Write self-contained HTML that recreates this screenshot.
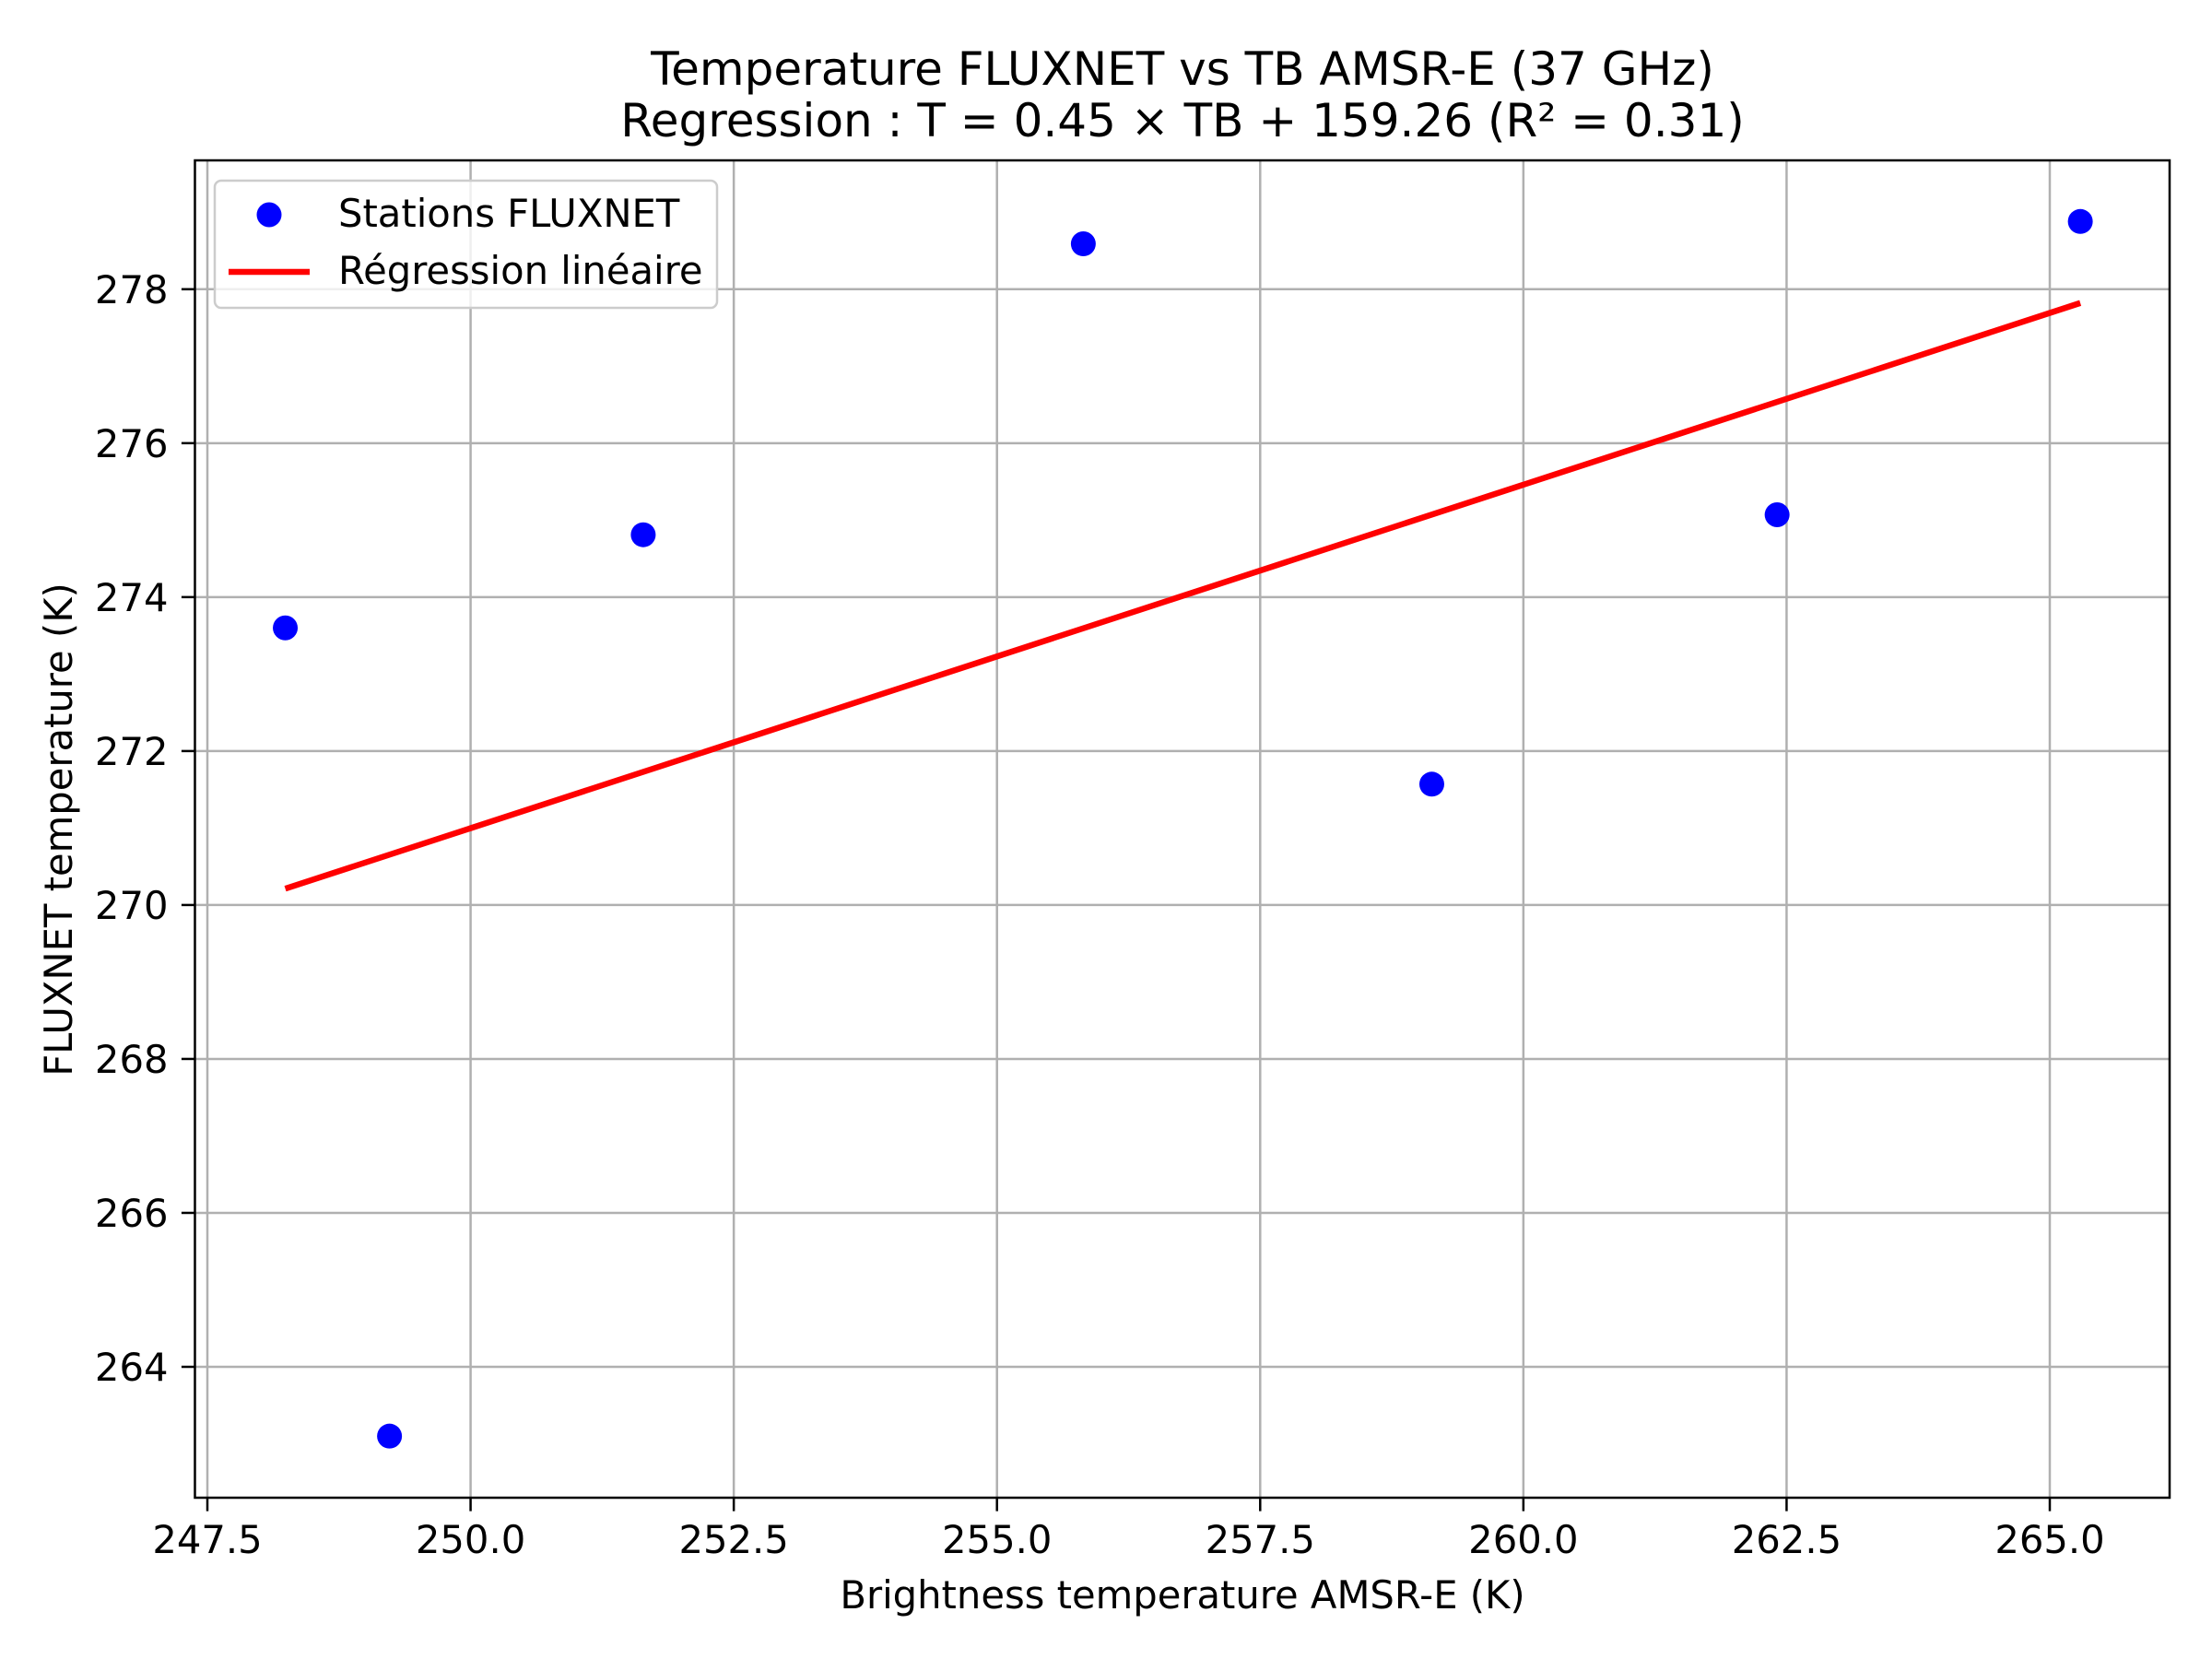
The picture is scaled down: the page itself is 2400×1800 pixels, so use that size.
<!DOCTYPE html>
<html><head><meta charset="utf-8"><style>
html,body{margin:0;padding:0;background:#fff;}
svg{display:block;font-family:"DejaVu Sans","Liberation Sans",sans-serif;}
</style></head><body>
<svg id="chart" width="2400" height="1800" viewBox="0 0 2400 1800">
<rect width="2400" height="1800" fill="#fff"/>
<g id="grid"></g>
<g id="plot"></g>
<rect x="211.5" y="174" width="2142.5" height="1451" fill="none" stroke="#000" stroke-width="2.5"/>
<g id="ticks"></g>
<text x="1283" y="92" text-anchor="middle" font-size="50">Temperature FLUXNET vs TB AMSR-E (37 GHz)</text>
<text x="1283" y="148" text-anchor="middle" font-size="50">Regression : T = 0.45 × TB + 159.26 (R² = 0.31)</text>
<text x="1283" y="1745" text-anchor="middle" font-size="41.7">Brightness temperature AMSR-E (K)</text>
<text transform="translate(78,900) rotate(-90)" text-anchor="middle" font-size="41.7">FLUXNET temperature (K)</text>
<g>
<rect x="233" y="196" width="545" height="138" rx="7" fill="#fff" fill-opacity="0.8" stroke="#ccc" stroke-width="2.5"/>
<circle cx="292" cy="233" r="13.5" fill="#0000ff"/>
<text x="367" y="246" font-size="41.7">Stations FLUXNET</text>
<line x1="248" y1="295" x2="336" y2="295" stroke="#ff0000" stroke-width="6.5"/>
<text x="367" y="308" font-size="41.7">Régression linéaire</text>
</g>
</svg>
<script>
const xTicks = [247.5, 250.0, 252.5, 255.0, 257.5, 260.0, 262.5, 265.0];
const yTicks = [264, 266, 268, 270, 272, 274, 276, 278];
const tbValues = [248.24, 249.23, 251.64, 255.82, 259.13, 262.41, 265.29];
const tempValues = [273.60, 263.10, 274.81, 278.59, 271.57, 275.07, 278.88];

const NS = "http://www.w3.org/2000/svg";
const L = 211.5, R = 2354, T = 174, B = 1625;
function xs(v){ return 225 + (v - 247.5) / 17.5 * (2224 - 225); }
function ys(v){ return 1483 + (v - 264) / 14 * (313.8 - 1483); }
function mk(tag, attrs, parent){ const e = document.createElementNS(NS, tag); for (const k in attrs) e.setAttribute(k, attrs[k]); parent.appendChild(e); return e; }
const grid = document.getElementById('grid'), plot = document.getElementById('plot'), ticks = document.getElementById('ticks');

xTicks.forEach(v => {
  const x = xs(v);
  const g = mk('line', {x1:x, x2:x, y1:T, y2:B, stroke:'#b0b0b0', 'stroke-width':2.5}, grid);
  
  
  const t = mk('line', {x1:x, x2:x, y1:B, y2:B+14.6, stroke:'#000', 'stroke-width':2.5}, ticks);
  
  
  const lb = mk('text', {x:x, y:B+60, 'text-anchor':'middle', 'font-size':41.7}, ticks);
  lb.textContent = v.toFixed(1);
  
  
});
yTicks.forEach(v => {
  const y = ys(v);
  const g = mk('line', {x1:L, x2:R, y1:y, y2:y, stroke:'#b0b0b0', 'stroke-width':2.5}, grid);
  
  
  const t = mk('line', {x1:L-14.6, x2:L, y1:y, y2:y, stroke:'#000', 'stroke-width':2.5}, ticks);
  
  
  const lb = mk('text', {x:L-29, y:y+15, 'text-anchor':'end', 'font-size':41.7}, ticks);
  lb.textContent = String(v);
  
  
});

tbValues.forEach((v, i) => {
  const c = mk('circle', {cx:xs(v), cy:ys(tempValues[i]), r:13.5, fill:'#0000ff'}, plot);
  
  
});

const n = tbValues.length;
const mx = tbValues.reduce((a,b)=>a+b,0)/n, my = tempValues.reduce((a,b)=>a+b,0)/n;
let sxy = 0, sxx = 0;
for (let i=0;i<n;i++){ sxy += (tbValues[i]-mx)*(tempValues[i]-my); sxx += (tbValues[i]-mx)**2; }
const slope = sxy/sxx, icpt = my - slope*mx;
const x0 = Math.min(...tbValues), x1 = Math.max(...tbValues);
const ln = mk('line', {x1:xs(x0), y1:ys(slope*x0+icpt), x2:xs(x1), y2:ys(slope*x1+icpt), stroke:'#ff0000', 'stroke-width':6.5}, plot);


</script>
</body></html>
